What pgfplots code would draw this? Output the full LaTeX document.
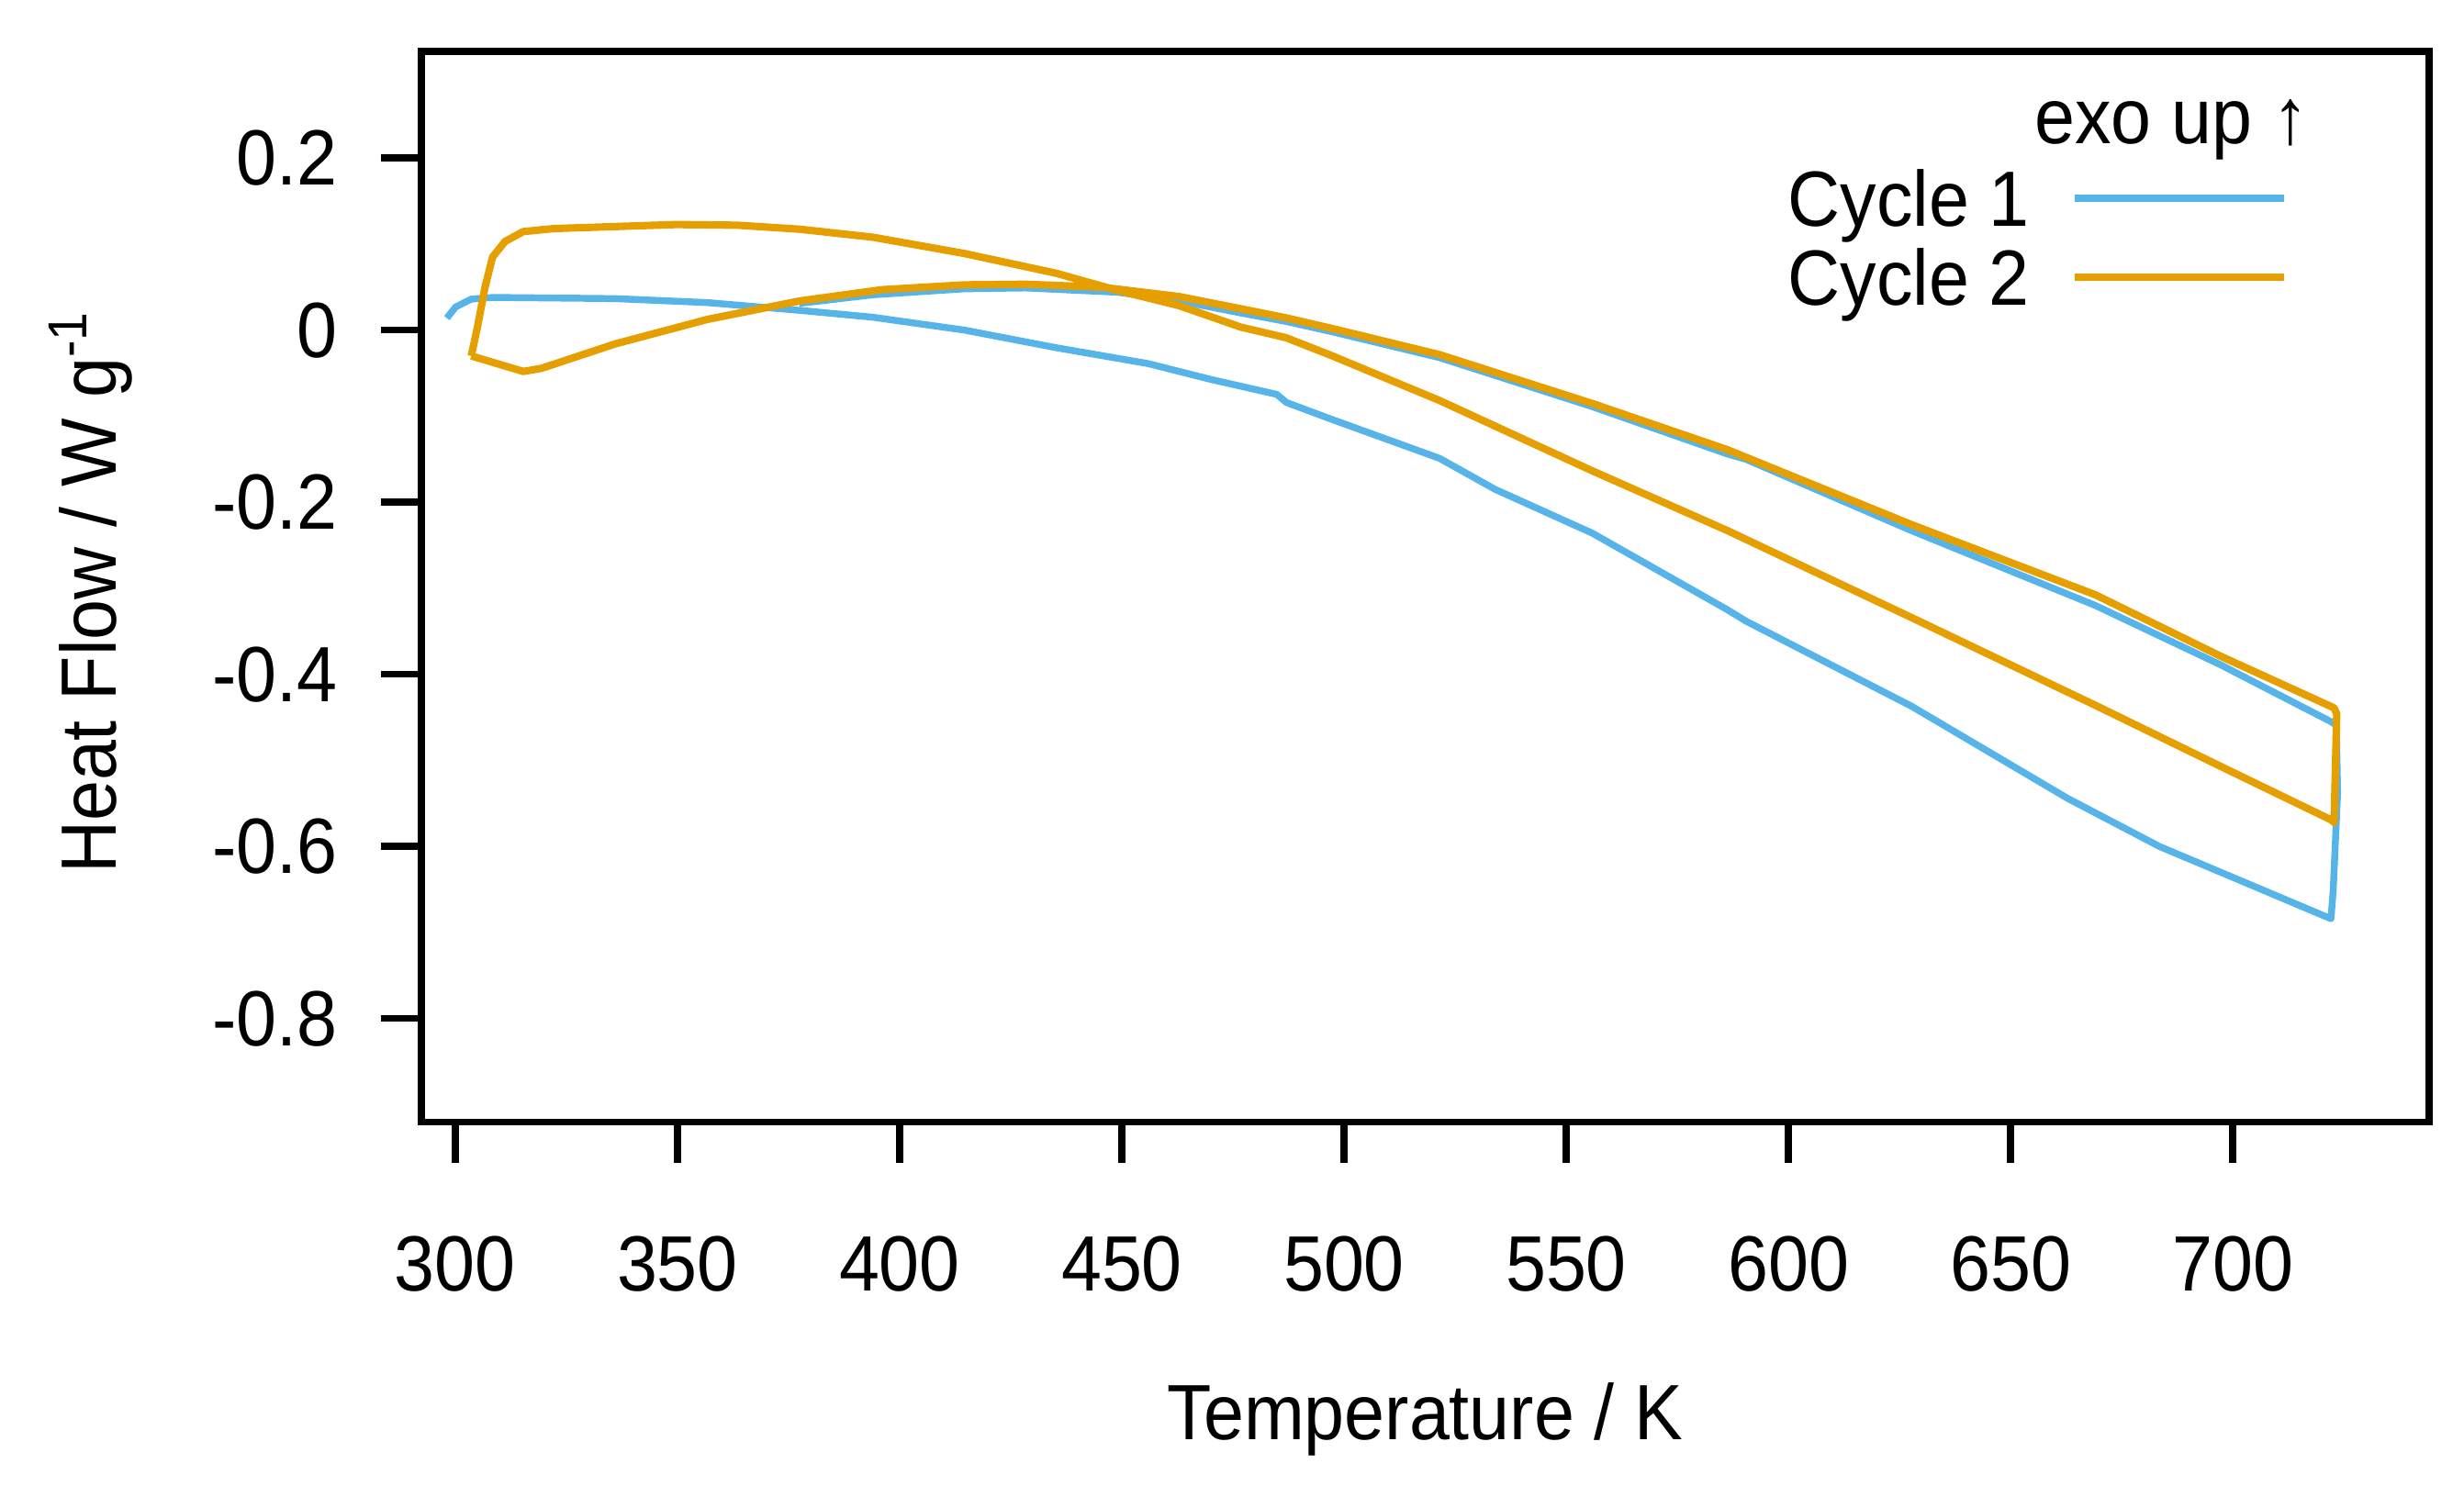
\documentclass[border=0pt]{standalone}
\usepackage{fontspec}
\setmainfont{Liberation Sans}[FakeStretch=0.925]
\usepackage{pgfplots}
\pgfplotsset{compat=1.18}
\definecolor{cblue}{HTML}{56B4E9}
\definecolor{corange}{HTML}{E69F00}
\newcommand{\lf}{\fontsize{13.75}{16}\selectfont}
\begin{document}
\lf
\begin{tikzpicture}
\begin{axis}[
  at={(0,0)}, anchor=south west,
  scale only axis, width=352.0pt, height=187.8pt,
  xmin=292.4, xmax=744.2, ymin=-0.9205, ymax=0.324,
  axis line style={line width=1.2pt, black},
  xtick={300,350,400,450,500,550,600,650,700},
  xticklabels={300,350,400,450,500,550,600,650,700},
  ytick={-0.8,-0.6,-0.4,-0.2,0,0.2},
  yticklabels={-0.8,-0.6,-0.4,-0.2,0,0.2},
  xtick pos=bottom, ytick pos=left, tick align=outside,
  major tick length=7.1pt,
  tick style={line width=1.2pt, black},
  xticklabel style={anchor=north, inner sep=0pt, font=\lf},
  yticklabel style={anchor=east, inner sep=0pt, font=\lf},
  xticklabel shift=12.7pt,
  yticklabel shift=7.5pt,
  xlabel={Temperature / K},
  ylabel={Heat Flow / W g\textsuperscript{-1}},
  every axis x label/.style={at={(axis description cs:0.5,-0.2961)}, anchor=base, inner sep=0pt, font=\lf},
  every axis y label/.style={at={(axis description cs:-0.152,0.4953)}, anchor=base, rotate=90, inner sep=0pt, font=\lf},
  legend style={draw=none, fill=none, inner sep=0pt, outer sep=0pt,
    row sep=0pt, column sep=7.2pt,
    at={(axis description cs:0.9296,0.8997)}, anchor=north east,
    nodes={inner sep=0pt, text height=11.92pt, text depth=1.92pt, font=\lf}},
  legend plot pos=right, legend cell align=right,
  legend image code/.code={\draw[#1, line width=1.35pt] (0pt,0pt) -- (36.7pt,0pt);},
]
\addplot[cblue, line width=1.2pt, line join=round] coordinates {
(298.1,0.014) (300.1,0.027) (303.6,0.036) (308.4,0.038) (336.0,0.0366)
(356.7,0.032) (377.4,0.023) (393.9,0.015) (414.6,0.000) (435.3,-0.0205)
(456.0,-0.039) (469.8,-0.057) (484.9,-0.0747) (487.0,-0.084) (497.4,-0.104)
(521.5,-0.149) (534.0,-0.185) (555.9,-0.236) (586.3,-0.325) (590.4,-0.338)
(627.7,-0.437) (662.8,-0.544) (683.5,-0.600) (704.2,-0.645) (722.1,-0.684)
(722.6,-0.651) (723.6,-0.537) (723.3,-0.459)
(722.1,-0.455) (697.3,-0.389) (669.1,-0.320) (627.7,-0.233) (590.4,-0.150)
(586.3,-0.144) (555.9,-0.089) (521.5,-0.032) (497.4,-0.002) (487.0,0.010)
(476.7,0.020) (462.9,0.034) (449.1,0.044) (428.4,0.049) (414.6,0.048)
(393.9,0.041) (377.4,0.031)
};
\addlegendentry{Cycle 1}
\addplot[corange, line width=1.3pt, line join=round] coordinates {
(303.6,-0.030) (315.3,-0.048) (319.4,-0.0444) (336.0,-0.016) (356.7,0.0124)
(377.4,0.0338) (396.0,0.047) (414.6,0.0526) (428.4,0.0533) (445.6,0.0498)
(462.9,0.039) (476.7,0.0249) (487.0,0.0142) (497.4,0.0018) (521.5,-0.0285)
(555.9,-0.0853) (586.3,-0.139) (627.7,-0.226) (669.1,-0.3076) (697.3,-0.379)
(722.8,-0.439) (723.4,-0.446) (722.8,-0.572)
(722.1,-0.569) (697.3,-0.507) (669.1,-0.436) (627.7,-0.334) (586.3,-0.233)
(555.9,-0.1636) (521.5,-0.0818) (497.4,-0.030) (487.0,-0.0089) (476.7,0.0036)
(462.9,0.0284) (449.1,0.046) (435.3,0.066) (414.6,0.089) (393.9,0.108)
(377.4,0.1173) (363.5,0.1219) (349.8,0.1227) (322.2,0.118) (315.3,0.1145)
(311.2,0.103) (308.4,0.085) (306.7,0.050) (305.0,0.0036) (303.6,-0.030)
};
\addlegendentry{Cycle 2}
\node[anchor=base east, inner sep=0pt, font=\lf] at (axis description cs:0.9406,0.9135) {exo up ↑};
\end{axis}
\pgfresetboundingbox
\path[use as bounding box] (-73.9pt,-63.7pt) rectangle (358.1pt,196.8pt);
\end{tikzpicture}
\end{document}
